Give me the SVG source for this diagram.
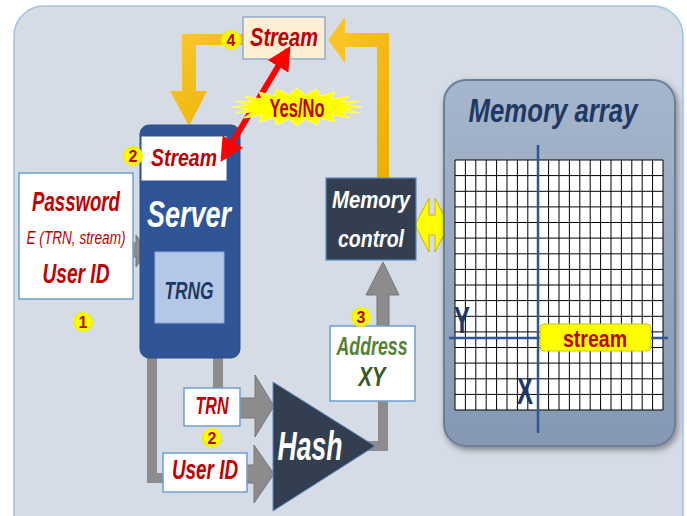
<svg xmlns="http://www.w3.org/2000/svg" width="687" height="516" viewBox="0 0 687 516">
<defs>
<style>
.t{font-family:"Liberation Sans",Arial,sans-serif;font-style:italic;font-weight:bold;text-anchor:middle}
.red{fill:#c00000}
.wht{fill:#ffffff}
.box{fill:#ffffff;stroke:#6f9fd0;stroke-width:1.5}
.gray{fill:#8c8c8c;stroke:#767676;stroke-width:1}
.gline{fill:none;stroke:#8c8c8c;stroke-width:10}
.badge{fill:#ffff00;stroke:#f2f200;stroke-width:2}
.bt{font-family:"Liberation Sans",Arial,sans-serif;font-weight:bold;font-size:16px;fill:#c00000;text-anchor:middle}
</style>
<linearGradient id="gold" x1="0" y1="0" x2="1" y2="1">
<stop offset="0" stop-color="#ffc72c"/><stop offset="1" stop-color="#e8b000"/>
</linearGradient>
<linearGradient id="arr" x1="0" y1="0" x2="0" y2="1">
<stop offset="0" stop-color="#a6b6cc"/><stop offset="1" stop-color="#8598b3"/>
</linearGradient>
<marker id="rh" viewBox="0 0 10 10" refX="8" refY="5" markerWidth="4" markerHeight="4" orient="auto-start-reverse">
<path d="M0,0 L10,5 L0,10 z" fill="#ff0000"/>
</marker>
<filter id="sh" x="-10%" y="-10%" width="125%" height="125%">
<feDropShadow dx="2" dy="3" stdDeviation="3" flood-color="#000" flood-opacity="0.4"/>
</filter>
</defs>
<rect x="0" y="0" width="687" height="516" fill="#ffffff"/>
<rect id="panel" x="14" y="6" width="669" height="540" rx="30" fill="#d6dce5" stroke="#9dc3e6" stroke-width="1.5"/>

<g id="connectors">
<polygon points="243,34 182,34 182,91 170,91 189,126 207,91 196,91 196,45 243,45" fill="url(#gold)"/>
<polygon points="389,178 389,33 345,33 345,17 328,40 345,63 345,47 377,47 377,178" fill="url(#gold)"/>
<polygon class="gray" points="120,243 136,243 136,235 147,251 136,267 136,257 120,257"/>
<path class="gline" d="M152,358 V478 H175"/>
<path class="gline" d="M218,358 V392"/>
<polygon class="gray" points="238,398 255,398 255,375 274,406 255,437 255,418 238,418"/>
<polygon class="gray" points="240,465 254,465 254,445 274,474 254,503 254,483 240,483"/>
<path class="gline" d="M368,446 H383 V398"/>
<polygon class="gray" points="377,327 377,295 366,295 383,262 399,295 389,295 389,327"/>
<polygon points="415,225 429,198 429,215 435,215 435,198 449,225 435,252 435,235 429,235 429,252" fill="#ffff00" stroke="#c8b400" stroke-width="1"/>
</g>

<g id="server">
<rect x="140" y="125" width="100" height="233" rx="9" fill="#2f5597" stroke="#2a4c86" stroke-width="1"/>
<text class="t wht" x="189" y="227" font-size="37" textLength="84" lengthAdjust="spacingAndGlyphs">Server</text>
</g>
<g id="stream2">
<rect x="142" y="137" width="84" height="43" fill="#ffffff" stroke="#ffffff"/>
<text class="t red" x="184" y="166" font-size="24" textLength="66" lengthAdjust="spacingAndGlyphs">Stream</text>
</g>
<g id="badge2a"><circle class="badge" cx="133" cy="156" r="9"/><text class="bt" x="133" y="162">2</text></g>
<g id="trng">
<rect x="155" y="252" width="69" height="71" fill="#b4c7e7" stroke="#8faadc" stroke-width="1"/>
<text class="t" x="189" y="299" font-size="24" fill="#1f3864" textLength="49" lengthAdjust="spacingAndGlyphs">TRNG</text>
</g>

<g id="stream4">
<rect x="243" y="17" width="82" height="42" fill="#fdefd4" stroke="#7aa0c8" stroke-width="1.2"/>
<text class="t red" x="284" y="46" font-size="25" textLength="68" lengthAdjust="spacingAndGlyphs">Stream</text>
</g>
<g id="badge4"><circle class="badge" cx="231" cy="40" r="9"/><text class="bt" x="231" y="46">4</text></g>

<g id="yesno">
<line x1="288" y1="50" x2="223" y2="158" stroke="#ff0000" stroke-width="6" marker-start="url(#rh)" marker-end="url(#rh)"/>
<polygon points="362,107 346,109 359,113 342,112 350,118 332,115 335,122 320,118 317,125 305,119 297,126 289,119 277,125 274,118 259,122 262,115 244,118 252,112 235,113 248,109 232,107 248,105 235,101 252,102 244,96 262,99 259,92 274,96 277,89 289,95 297,88 305,95 317,89 320,96 335,92 332,99 350,96 342,102 359,101 346,105" fill="#ffff00" stroke="#ffff66" stroke-width="1"/>
<text class="red" x="297" y="117" font-family="Liberation Sans, Arial, sans-serif" font-weight="bold" font-size="25" text-anchor="middle" textLength="55" lengthAdjust="spacingAndGlyphs">Yes/No</text>
</g>

<g id="password">
<rect class="box" x="19" y="173" width="114" height="126"/>
<text class="t red" x="76" y="211" font-size="28" textLength="88" lengthAdjust="spacingAndGlyphs">Password</text>
<text class="red" x="76" y="244" font-family="Liberation Sans, Arial, sans-serif" font-style="italic" font-size="18" text-anchor="middle" textLength="99" lengthAdjust="spacingAndGlyphs">E (TRN, stream)</text>
<text class="t red" x="76" y="283" font-size="28" textLength="67" lengthAdjust="spacingAndGlyphs">User ID</text>
</g>
<g id="badge1"><circle class="badge" cx="83" cy="322" r="9"/><text class="bt" x="83" y="328">1</text></g>

<g id="memctrl">
<rect x="326" y="178" width="90" height="82" fill="#333f50" stroke="#5b8ac6" stroke-width="1.2"/>
<text class="t wht" x="371" y="208" font-size="24" font-weight="normal" textLength="78" lengthAdjust="spacingAndGlyphs">Memory</text>
<text class="t wht" x="371" y="247" font-size="24" font-weight="normal" textLength="66" lengthAdjust="spacingAndGlyphs">control</text>
</g>

<g id="address">
<rect class="box" x="330" y="326" width="85" height="75"/>
<text class="t" x="372" y="355" font-size="26" font-weight="normal" fill="#548235" textLength="71" lengthAdjust="spacingAndGlyphs">Address</text>
<text class="t" x="372" y="386" font-size="28" fill="#385723" textLength="27" lengthAdjust="spacingAndGlyphs">XY</text>
</g>
<g id="badge3"><circle class="badge" cx="361" cy="317" r="9"/><text class="bt" x="361" y="323">3</text></g>

<g id="trn">
<rect class="box" x="184" y="388" width="56" height="38"/>
<text class="t red" x="212" y="414" font-size="23" textLength="33" lengthAdjust="spacingAndGlyphs">TRN</text>
</g>
<g id="badge2b"><circle class="badge" cx="212" cy="438" r="9"/><text class="bt" x="212" y="444">2</text></g>
<g id="userid">
<rect class="box" x="163" y="453" width="84" height="39"/>
<text class="t red" x="205" y="479" font-size="27" textLength="66" lengthAdjust="spacingAndGlyphs">User ID</text>
</g>

<g id="hash">
<polygon points="273,382 273,511 375,446" fill="#333f50" stroke="#5b8ac6" stroke-width="1"/>
<text class="t wht" x="310" y="460" font-size="40" textLength="65" lengthAdjust="spacingAndGlyphs">Hash</text>
</g>

<g id="memarray">
<rect x="444" y="80" width="231" height="366" rx="22" fill="url(#arr)" stroke="#6d7f98" stroke-width="2" filter="url(#sh)"/>
<text class="t" x="553" y="122" font-size="33" fill="#1f3864" textLength="169" lengthAdjust="spacingAndGlyphs">Memory array</text>
<rect x="455" y="160" width="208" height="250" fill="#ffffff"/>
<path fill="none" stroke="#000000" stroke-width="1" d="M455,160V410M465.4,160V410M475.8,160V410M486.2,160V410M496.6,160V410M507,160V410M517.4,160V410M527.8,160V410M538.2,160V410M548.6,160V410M559,160V410M569.4,160V410M579.8,160V410M590.2,160V410M600.6,160V410M611,160V410M621.4,160V410M631.8,160V410M642.2,160V410M652.6,160V410M663,160V410M455,160H663M455,175.6H663M455,191.3H663M455,206.9H663M455,222.5H663M455,238.1H663M455,253.8H663M455,269.4H663M455,285H663M455,300.6H663M455,316.3H663M455,331.9H663M455,347.5H663M455,363.1H663M455,378.8H663M455,394.4H663M455,410H663"/>
<line x1="538" y1="145" x2="538" y2="433" stroke="#2f5597" stroke-width="2.5"/>
<line x1="449" y1="338" x2="668" y2="338" stroke="#2f5597" stroke-width="2.5"/>
<text x="462" y="333" font-family="Liberation Sans, Arial, sans-serif" font-weight="bold" font-size="36" fill="#1f3864" text-anchor="middle" textLength="16" lengthAdjust="spacingAndGlyphs">Y</text>
<text x="525" y="404" font-family="Liberation Sans, Arial, sans-serif" font-weight="bold" font-size="36" fill="#1f3864" text-anchor="middle" textLength="16" lengthAdjust="spacingAndGlyphs">X</text>
<rect x="540" y="324" width="111" height="27" rx="4" fill="#ffff00" stroke="#c8c800" stroke-width="1"/>
<text x="595" y="347" font-family="Liberation Sans, Arial, sans-serif" font-weight="bold" font-size="24" fill="#c00000" text-anchor="middle" textLength="64" lengthAdjust="spacingAndGlyphs">stream</text>
</g>
</svg>
